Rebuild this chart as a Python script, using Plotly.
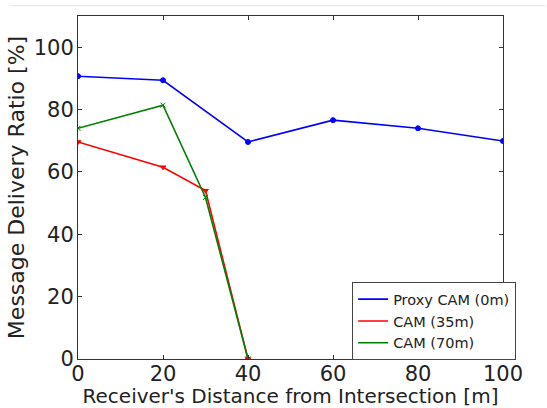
import plotly.graph_objects as go

x_proxy = [0, 20, 40, 60, 80, 100]
y_proxy = [90.7, 89.4, 69.6, 76.6, 74.0, 69.9]
x_cam35 = [0, 20, 30, 40]
y_cam35 = [69.6, 61.5, 54.0, 0]
x_cam70 = [0, 20, 30, 40]
y_cam70 = [74.0, 81.4, 51.8, 0]
x_ticks = [0, 20, 40, 60, 80, 100]
y_ticks = [0, 20, 40, 60, 80, 100]

font = "DejaVu Sans"
series = [
    ("Proxy CAM (0m)", x_proxy, y_proxy, "#0000ff", "circle"),
    ("CAM (35m)", x_cam35, y_cam35, "#ff0000", "triangle-down"),
    ("CAM (70m)", x_cam70, y_cam70, "#008000", "x-thin"),
]
fig = go.Figure()
for name, xs, ys, col, sym in series:
    fig.add_trace(go.Scatter(x=xs, y=ys, mode="lines", name=name, legendgroup=name,
                             line=dict(color=col, width=1.6)))
    fig.add_trace(go.Scatter(x=xs, y=ys, mode="markers", name=name, legendgroup=name, showlegend=False,
                             marker=dict(symbol=sym, size=5, color=col, line=dict(color=col, width=1))))

axis_common = dict(showgrid=False, zeroline=False, showline=True, linecolor="#333333", linewidth=1,
                   mirror="allticks", ticks="inside", ticklen=4, tickcolor="#333333", automargin=False,
                   tickfont=dict(family=font, size=21, color="#222222"))
fig.update_xaxes(range=[0, 100], tickvals=x_ticks, ticklabelstandoff=-4, **axis_common,
                 title=dict(text="Receiver's Distance from Intersection [m]", font=dict(family=font, size=20, color="#222222"), standoff=0))
fig.update_yaxes(range=[0, 110], tickvals=y_ticks, ticklabelstandoff=-1, **axis_common,
                 title=dict(text="Message Delivery Ratio [%]", font=dict(family=font, size=22, color="#222222"), standoff=3))

fig.update_layout(
    width=547, height=408,
    margin=dict(l=78, r=44, t=16, b=49),
    paper_bgcolor="white", plot_bgcolor="white",
    showlegend=True,
    legend=dict(x=0.645, y=0.224, xanchor="left", yanchor="top",
                bordercolor="#444444", borderwidth=1, bgcolor="white",
                font=dict(family=font, size=14.5, color="#222222"), tracegroupgap=0, itemwidth=30),
)
fig.add_shape(type="line", xref="paper", yref="paper", x0=-0.16, x1=1.1, y0=1.03, y1=1.03,
              line=dict(color="#e4e4e4", width=1))
fig.write_html("out.html", post_script="document.body.style.margin='0px';",
               config={"displayModeBar": False})
